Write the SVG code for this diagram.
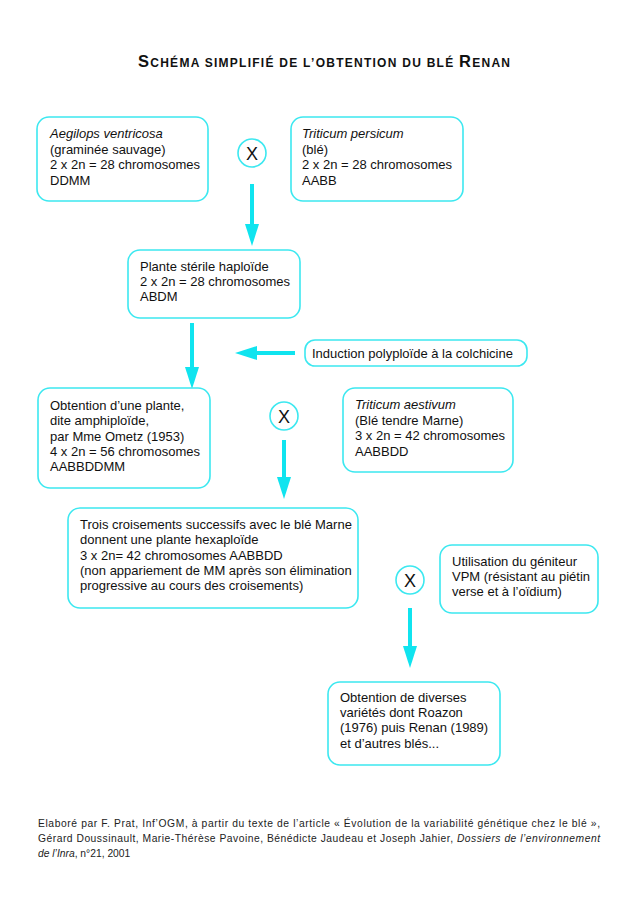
<svg xmlns="http://www.w3.org/2000/svg" width="633" height="901" viewBox="0 0 633 901">
<style>
.box{fill:#fff;stroke:#3ce8f0;stroke-width:1.6}
.circ{fill:#fff;stroke:#3ce8f0;stroke-width:1.6}
.t{font-family:"Liberation Sans",Arial,sans-serif;font-size:13px;fill:#111}
.x{font-family:"Liberation Sans",Arial,sans-serif;font-size:18px;fill:#111;text-anchor:middle}
.i{font-style:italic}
.arr{stroke:#10e4ef;stroke-width:4;fill:none}
.ft{font-family:"Liberation Sans",Arial,sans-serif;font-size:10.3px;fill:#222}
.title{font-family:"Liberation Sans",Arial,sans-serif;font-weight:bold;fill:#111}
</style>
<defs>
<marker id="ah" markerUnits="userSpaceOnUse" markerWidth="22" markerHeight="14" refX="4" refY="7" orient="auto">
<path d="M0,0 L22,7 L0,14 z" fill="#10e4ef"/>
</marker>
</defs>
<rect width="633" height="901" fill="#fff"/>
<text class="title" x="138" y="67" textLength="372" lengthAdjust="spacing"><tspan font-size="16.5">S</tspan><tspan font-size="12">CHÉMA SIMPLIFIÉ DE L’OBTENTION DU BLÉ </tspan><tspan font-size="16.5">R</tspan><tspan font-size="12">ENAN</tspan></text>

<g id="connectors">
<line class="arr" x1="252" y1="184" x2="252" y2="228" marker-end="url(#ah)"/>
<line class="arr" x1="192" y1="323" x2="192" y2="371" marker-end="url(#ah)"/>
<line class="arr" x1="295" y1="353" x2="253" y2="353" marker-end="url(#ah)"/>
<line class="arr" x1="284" y1="440" x2="284" y2="481" marker-end="url(#ah)"/>
<line class="arr" x1="410" y1="608" x2="410" y2="650" marker-end="url(#ah)"/>
</g>

<g id="n-aegilops">
<rect class="box" x="37" y="117" width="171" height="84" rx="12"/>
<text class="t" x="50" y="138"><tspan class="i">Aegilops ventricosa</tspan><tspan x="50" dy="15.7">(graminée sauvage)</tspan><tspan x="50" dy="15.7">2 x 2n = 28 chromosomes</tspan><tspan x="50" dy="15.7">DDMM</tspan></text>
</g>
<g id="x1">
<circle class="circ" cx="252" cy="153" r="14"/>
<text class="x" x="252" y="160">X</text>
</g>
<g id="n-persicum">
<rect class="box" x="291" y="117" width="172" height="84" rx="12"/>
<text class="t" x="302" y="138"><tspan class="i">Triticum persicum</tspan><tspan x="302" dy="15.7">(blé)</tspan><tspan x="302" dy="15.7">2 x 2n = 28 chromosomes</tspan><tspan x="302" dy="15.7">AABB</tspan></text>
</g>
<g id="n-haploide">
<rect class="box" x="128" y="250" width="172" height="68" rx="12"/>
<text class="t" x="140" y="271"><tspan>Plante stérile haploïde</tspan><tspan x="140" dy="15">2 x 2n = 28 chromosomes</tspan><tspan x="140" dy="15">ABDM</tspan></text>
</g>
<g id="n-induction">
<rect class="box" x="305" y="340" width="222" height="26" rx="10"/>
<text class="t" x="312" y="358">Induction polyploïde à la colchicine</text>
</g>
<g id="n-amphiploide">
<rect class="box" x="38" y="388" width="172" height="100" rx="12"/>
<text class="t" x="50" y="410"><tspan>Obtention d’une plante,</tspan><tspan x="50" dy="15.25">dite amphiploïde,</tspan><tspan x="50" dy="15.25">par Mme Ometz (1953)</tspan><tspan x="50" dy="15.25">4 x 2n = 56 chromosomes</tspan><tspan x="50" dy="15.25">AABBDDMM</tspan></text>
</g>
<g id="x2">
<circle class="circ" cx="284" cy="416" r="14"/>
<text class="x" x="284" y="423">X</text>
</g>
<g id="n-aestivum">
<rect class="box" x="343" y="388" width="170" height="84" rx="12"/>
<text class="t" x="355" y="409"><tspan class="i">Triticum aestivum</tspan><tspan x="355" dy="15.5">(Blé tendre Marne)</tspan><tspan x="355" dy="15.5">3 x 2n = 42 chromosomes</tspan><tspan x="355" dy="15.5">AABBDD</tspan></text>
</g>
<g id="n-croisements">
<rect class="box" x="68" y="508" width="290" height="100" rx="12"/>
<text class="t" x="80" y="529"><tspan>Trois croisements successifs avec le blé Marne</tspan><tspan x="80" dy="15.25">donnent une plante hexaploïde</tspan><tspan x="80" dy="15.25">3 x 2n= 42 chromosomes AABBDD</tspan><tspan x="80" dy="15.25">(non appariement de MM après son élimination</tspan><tspan x="80" dy="15.25">progressive au cours des croisements)</tspan></text>
</g>
<g id="x3">
<circle class="circ" cx="410" cy="580" r="14"/>
<text class="x" x="410" y="587">X</text>
</g>
<g id="n-vpm">
<rect class="box" x="440" y="545" width="158" height="68" rx="12"/>
<text class="t" x="452" y="566"><tspan>Utilisation du géniteur</tspan><tspan x="452" dy="15">VPM (résistant au piétin</tspan><tspan x="452" dy="15">verse et à l’oïdium)</tspan></text>
</g>
<g id="n-renan">
<rect class="box" x="328" y="682" width="172" height="83" rx="12"/>
<text class="t" x="340" y="702"><tspan>Obtention de diverses</tspan><tspan x="340" dy="15.2">variétés dont Roazon</tspan><tspan x="340" dy="15.2">(1976) puis Renan (1989)</tspan><tspan x="340" dy="15.2">et d’autres blés...</tspan></text>
</g>

<g id="footer">
<text class="ft" x="38" y="827" textLength="562" lengthAdjust="spacing">Elaboré par F. Prat, Inf’OGM, à partir du texte de l’article « Évolution de la variabilité génétique chez le blé »,</text>
<text class="ft" x="38" y="842" textLength="562" lengthAdjust="spacing">Gérard Doussinault, Marie-Thérèse Pavoine, Bénédicte Jaudeau et Joseph Jahier, <tspan class="i">Dossiers de l’environnement</tspan></text>
<text class="ft" x="38" y="857"><tspan class="i">de l’Inra</tspan>, n°21, 2001</text>
</g>
</svg>
